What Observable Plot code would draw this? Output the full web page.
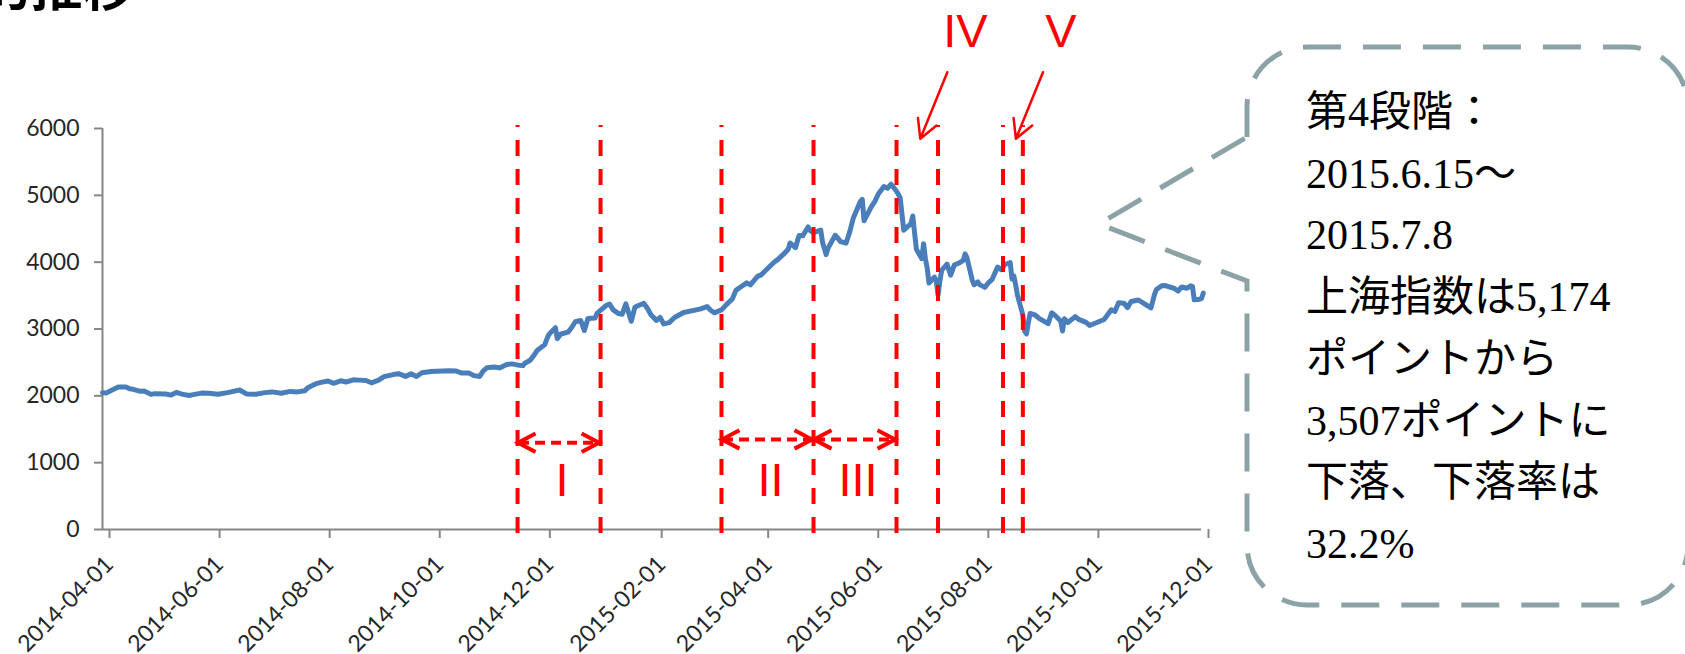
<!DOCTYPE html>
<html>
<head>
<meta charset="utf-8">
<script src="https://cdn.jsdelivr.net/npm/d3@7"></script>
<script src="https://cdn.jsdelivr.net/npm/@observablehq/plot@0.6"></script>
<style>
  html, body { margin: 0; padding: 0; background: #fff; overflow: hidden; }
  #chart svg { display: block; }
</style>
</head>
<body>
<div id="chart"></div>
<script>
// Shanghai Composite closing levels, April 2014 – early December 2015
const dates = [
  "2014-04-01","2014-04-03","2014-04-08","2014-04-10","2014-04-14","2014-04-16","2014-04-18","2014-04-22",
  "2014-04-24","2014-04-28","2014-04-30","2014-05-06","2014-05-09","2014-05-12","2014-05-15","2014-05-19",
  "2014-05-22","2014-05-26","2014-05-30","2014-06-04","2014-06-10","2014-06-13","2014-06-16","2014-06-20",
  "2014-06-25","2014-06-30","2014-07-04","2014-07-09","2014-07-14","2014-07-18","2014-07-22","2014-07-24",
  "2014-07-28","2014-07-31","2014-08-04","2014-08-07","2014-08-11","2014-08-14","2014-08-18","2014-08-21",
  "2014-08-25","2014-08-28","2014-09-01","2014-09-04","2014-09-09","2014-09-12","2014-09-16","2014-09-19",
  "2014-09-22","2014-09-25","2014-09-30","2014-10-10","2014-10-14","2014-10-17","2014-10-21","2014-10-24",
  "2014-10-27","2014-10-29","2014-10-31","2014-11-04","2014-11-07","2014-11-11","2014-11-14","2014-11-18",
  "2014-11-20","2014-11-21","2014-11-24","2014-11-26","2014-11-28","2014-12-02","2014-12-04","2014-12-05",
  "2014-12-08","2014-12-09","2014-12-11","2014-12-15","2014-12-17","2014-12-19","2014-12-22","2014-12-24",
  "2014-12-26","2014-12-30","2014-12-31",
  "2015-01-05","2015-01-07","2015-01-09","2015-01-12","2015-01-14","2015-01-16","2015-01-19","2015-01-21",
  "2015-01-23","2015-01-26","2015-01-28","2015-01-30","2015-02-02","2015-02-04","2015-02-06","2015-02-09",
  "2015-02-12","2015-02-17","2015-02-26","2015-03-02","2015-03-04","2015-03-06","2015-03-10","2015-03-13",
  "2015-03-16","2015-03-18","2015-03-20","2015-03-24","2015-03-26","2015-03-30","2015-04-01","2015-04-03",
  "2015-04-08","2015-04-10","2015-04-14","2015-04-16","2015-04-17","2015-04-20","2015-04-22","2015-04-24",
  "2015-04-27","2015-04-28","2015-04-30","2015-05-04","2015-05-05","2015-05-07","2015-05-08","2015-05-12",
  "2015-05-13","2015-05-15","2015-05-18","2015-05-20","2015-05-22","2015-05-26","2015-05-27","2015-05-28",
  "2015-06-01","2015-06-03","2015-06-05","2015-06-08","2015-06-10","2015-06-12","2015-06-15","2015-06-17",
  "2015-06-19","2015-06-23","2015-06-24","2015-06-26","2015-06-29","2015-06-30","2015-07-01","2015-07-02",
  "2015-07-03","2015-07-06","2015-07-07","2015-07-08","2015-07-09","2015-07-10","2015-07-13","2015-07-15",
  "2015-07-17","2015-07-20","2015-07-22","2015-07-23","2015-07-24","2015-07-27","2015-07-28","2015-07-30",
  "2015-07-31","2015-08-03","2015-08-05","2015-08-07","2015-08-10","2015-08-12","2015-08-14","2015-08-17",
  "2015-08-18","2015-08-19","2015-08-20","2015-08-21","2015-08-24","2015-08-25","2015-08-26","2015-08-27",
  "2015-08-28","2015-08-31","2015-09-02","2015-09-07","2015-09-09","2015-09-11","2015-09-14","2015-09-15",
  "2015-09-16","2015-09-18","2015-09-22","2015-09-24","2015-09-28","2015-09-30","2015-10-08","2015-10-12",
  "2015-10-14","2015-10-16","2015-10-19","2015-10-21","2015-10-23","2015-10-27","2015-10-30","2015-11-03",
  "2015-11-05","2015-11-06","2015-11-09","2015-11-11","2015-11-13","2015-11-16","2015-11-18","2015-11-20",
  "2015-11-23","2015-11-25","2015-11-26","2015-11-27","2015-11-30","2015-12-01","2015-12-02"
];
const closes = [
  2047,2043,2109,2134,2131,2105,2098,2067,
  2071,2021,2033,2028,2011,2052,2025,2005,
  2022,2041,2039,2024,2052,2070,2087,2026,
  2025,2048,2059,2039,2066,2059,2075,2126,
  2178,2201,2223,2188,2225,2207,2240,2235,
  2229,2195,2235,2288,2318,2331,2291,2329,
  2290,2345,2364,2375,2372,2341,2340,2302,
  2290,2373,2420,2430,2418,2469,2478,2456,
  2452,2487,2532,2604,2683,2763,2900,2938,
  3020,2856,2925,2953,3022,3108,3128,2977,
  3158,3166,3235,
  3351,3374,3286,3230,3222,3376,3116,3324,
  3351,3383,3306,3210,3129,3174,3076,3095,
  3173,3247,3298,3336,3280,3242,3286,3372,
  3449,3578,3617,3691,3661,3787,3810,3864,
  3995,4035,4136,4194,4287,4217,4398,4394,
  4527,4476,4441,4480,4299,4112,4206,4402,
  4375,4308,4284,4446,4657,4910,4941,4620,
  4828,4910,5023,5131,5106,5166,5062,4967,
  4478,4576,4691,4192,4053,4277,4053,3913,
  3687,3775,3728,3507,3710,3878,3970,3805,
  3957,3992,4027,4124,4070,3725,3663,3705,
  3664,3623,3695,3744,3928,3887,3965,3993,
  3748,3794,3664,3508,3210,2965,2927,3084,
  3233,3206,3160,3080,3243,3200,3115,2971,
  3152,3097,3186,3143,3100,3053,3143,3288,
  3263,3391,3386,3320,3412,3434,3383,3316,
  3522,3590,3647,3650,3632,3607,3568,3630,
  3610,3647,3635,3436,3445,3456,3537
];

// Axis ticks
const xTicks = ["2014-04-01","2014-06-01","2014-08-01","2014-10-01","2014-12-01","2015-02-01",
                "2015-04-01","2015-06-01","2015-08-01","2015-10-01","2015-12-01"];
const yTicks = [0, 1000, 2000, 3000, 4000, 5000, 6000];

// Stage boundaries (dashed red verticals)
const stageBounds = ["2014-11-17","2015-01-02","2015-03-10","2015-04-30",
                     "2015-06-15","2015-07-08","2015-08-13","2015-08-24"];
// Stages drawn with a double-headed arrow and a label underneath
const spanNames  = ["I", "II", "III"];
const spanFrom   = ["2014-11-17","2015-03-10","2015-04-30"];
const spanTo     = ["2015-01-02","2015-04-30","2015-06-15"];
const spanLevel  = [1290, 1340, 1340];
// Stages marked with a label and pointer from above
const pointNames = ["IV", "V"];
const pointFrom  = ["2015-06-15","2015-08-13"];
const pointTo    = ["2015-07-08","2015-08-24"];

const titleText = "上海総合指数の段階的推移";
const calloutLines = [
  "第4段階：",
  "2015.6.15～",
  "2015.7.8",
  "上海指数は5,174",
  "ポイントから",
  "3,507ポイントに",
  "下落、下落率は",
  "32.2%"
];

// ---------------------------------------------------------------
const parse = d3.utcParse("%Y-%m-%d");
const series = dates.map((d, i) => ({date: parse(d), close: closes[i]}));
const bounds = stageBounds.map(parse);
const mid = (a, b) => new Date((parse(a).getTime() + parse(b).getTime()) / 2);
const spans = spanNames.map((name, i) => ({
  name, from: parse(spanFrom[i]), to: parse(spanTo[i]), level: spanLevel[i],
  center: mid(spanFrom[i], spanTo[i])
}));
const DAY = 864e5;
const pointers = pointNames.map((name, i) => {
  const m = mid(pointFrom[i], pointTo[i]);
  return {name, tip: m, tail: new Date(m.getTime() + 15 * DAY)};
});

const RED = "#ff0000";
const BLUE = "#4a7ebb";
const GREY = "#868686";
const INK = "#262626";
const LABEL_FONT = "Lato, 'Liberation Sans', sans-serif";
const NUMERAL_FONT = "'Liberation Sans', Arial, sans-serif";

// Double-headed dashed arrow spanning each stage
function spanArrows(index, {x, y}) {
  const g = d3.create("svg:g")
    .attr("fill", "none").attr("stroke", RED).attr("stroke-width", 4);
  for (const s of spans) {
    const xa = x(s.from), xb = x(s.to), yy = y(s.level);
    g.append("line")
      .attr("x1", xa + 2).attr("x2", xb - 2).attr("y1", yy).attr("y2", yy)
      .attr("stroke-dasharray", "10,6");
    g.append("path")
      .attr("d", `M${xa + 18.5},${yy - 9.2}L${xa + 1},${yy}L${xa + 18.5},${yy + 9.2}` +
                 `M${xb - 18.5},${yy - 9.2}L${xb - 1},${yy}L${xb - 18.5},${yy + 9.2}`);
  }
  return g.node();
}

// Dashed speech-bubble note beside the plot, pointing back into it
function calloutNote(index, scales, values, {width, marginRight}) {
  const fr = width - marginRight;
  const L = fr + 46, T = 47, R = fr + 487, B = 605, r = 60;
  const tipX = fr - 102, tipY = 224, joinTop = 137, joinBottom = 281;
  const g = d3.create("svg:g");
  g.append("path")
    .attr("d",
      `M${L},${joinTop}V${T + r}A${r},${r} 0 0 1 ${L + r},${T}H${R - r}` +
      `A${r},${r} 0 0 1 ${R},${T + r}V${B - r}A${r},${r} 0 0 1 ${R - r},${B}H${L + r}` +
      `A${r},${r} 0 0 1 ${L},${B - r}V${joinBottom}L${tipX},${tipY}Z`)
    .attr("fill", "white")
    .attr("stroke", "#8ba2a6")
    .attr("stroke-width", 5)
    .attr("stroke-dasharray", "38,22");
  const text = g.append("text")
    .attr("font-family", "'Liberation Serif', 'Noto Sans CJK JP', serif")
    .attr("font-size", 42)
    .attr("text-anchor", "start")
    .attr("fill", "#000");
  calloutLines.forEach((line, i) => {
    text.append("tspan").attr("x", L + 59).attr("y", 126 + i * 61.7).text(line);
  });
  return g.node();
}

const x0 = parse(xTicks[0]);
const x1 = parse(xTicks[xTicks.length - 1]);

const chart = Plot.plot({
  width: 1685,
  height: 654,
  marginLeft: 102,
  marginRight: 484,
  marginTop: 128,
  marginBottom: 125,
  x: {type: "utc", domain: [x0, x1]},
  y: {domain: [0, 6000]},
  style: {fontFamily: LABEL_FONT, fontSize: "23px", color: INK, background: "white", overflow: "visible"},
  marks: [
    // axis lines
    Plot.ruleY([0], {stroke: GREY, strokeWidth: 2}),
    Plot.ruleX([x0], {y1: 0, y2: 6000, stroke: GREY, strokeWidth: 2}),
    Plot.axisY(yTicks, {
      tickSize: 8, tickPadding: 15, stroke: GREY, strokeWidth: 2, label: null,
      fill: INK, fontSize: 23, tickFormat: d => String(d)
    }),
    Plot.axisX(xTicks.map(parse), {
      tickSize: 9, tickPadding: 22, stroke: GREY, strokeWidth: 2, label: null,
      tickRotate: -45, textAnchor: "end", lineAnchor: "middle", dx: 7,
      fill: INK, fontSize: 23, tickFormat: d3.utcFormat("%Y-%m-%d")
    }),
    // index line
    Plot.line(series, {x: "date", y: "close", stroke: BLUE, strokeWidth: 5,
                       strokeLinejoin: "round", strokeLinecap: "round"}),
    // stage boundaries
    Plot.ruleX(bounds, {y1: -60, y2: 6045, stroke: RED, strokeWidth: 4, strokeDasharray: "16,13"}),
    // stage spans and labels
    spanArrows,
    Plot.text(spans, {x: "center", y: 730, text: "name", dx: 3, fill: RED,
                      fontFamily: NUMERAL_FONT, fontSize: 47, lineAnchor: "middle"}),
    // pointers for the short stages
    Plot.arrow(pointers, {x1: "tail", y1: 6842, x2: "tip", y2: 5846, dx: 3,
                          stroke: RED, strokeWidth: 2.5, headLength: 12.6, headAngle: 57}),
    Plot.text(pointers, {x: "tail", y: 6842, text: "name", dx: 21, dy: -25, fill: RED,
                         fontFamily: NUMERAL_FONT, fontSize: 47, lineAnchor: "bottom"}),
    // title, partly above the page edge
    Plot.text([titleText], {frameAnchor: "top-left", dx: 32, dy: -123, text: d => d,
                            textAnchor: "end", lineAnchor: "bottom", fill: "#000",
                            fontFamily: "'Noto Sans CJK JP', sans-serif", fontSize: 52, fontWeight: "bold"}),
    calloutNote
  ]
});

document.getElementById("chart").appendChild(chart);
</script>
</body>
</html>
